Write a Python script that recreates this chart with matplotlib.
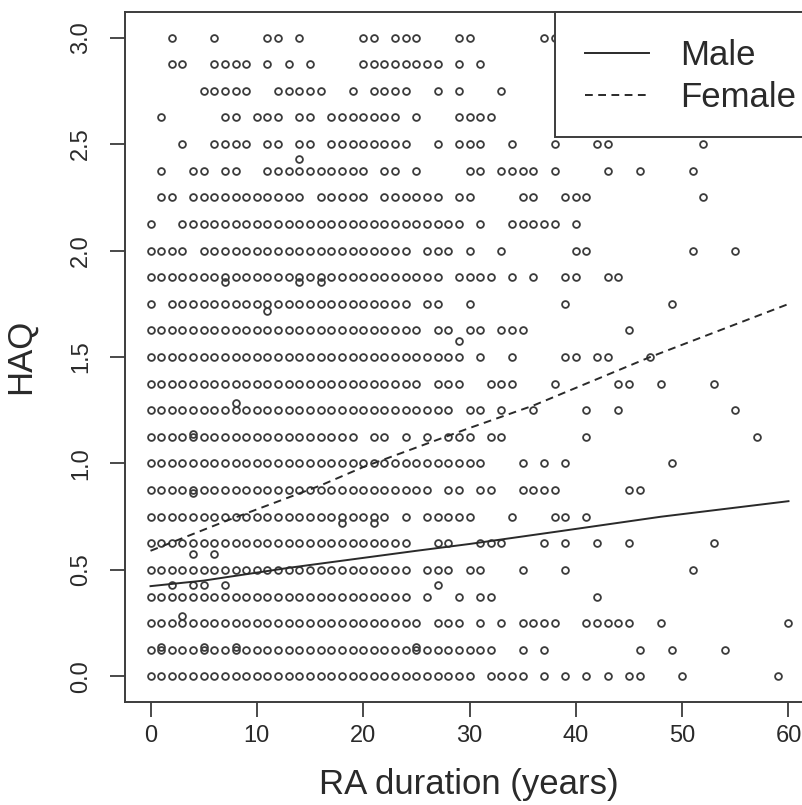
import matplotlib
matplotlib.use("Agg")
import matplotlib.pyplot as plt
from matplotlib.patches import Rectangle

plt.rcParams['font.family'] = ['Liberation Sans', 'DejaVu Sans']

# RA duration (years) observed at each HAQ level
haq_3000 = [2, 6, 11, 12, 14, 20, 21, 23, 24, 25, 29, 30, 37, 38]
haq_2875 = [2, 3, 6, 7, 8, 9, 11, 13, 15, 20, 21, 22, 23, 24, 25, 26, 27, 29, 31]
haq_2750 = [5, 6, 7, 8, 9, 12, 13, 14, 15, 16, 19, 21, 22, 23, 24, 27, 29, 33]
haq_2625 = [1, 7, 8, 10, 11, 12, 14, 15, 17, 18, 19, 20, 21, 22, 23, 25, 29, 30, 31, 32]
haq_2500 = [3, 6, 7, 8, 9, 11, 12, 14, 15, 17, 18, 19, 20, 21, 22, 23, 24, 27, 29, 30, 31, 34, 38, 42, 43, 52]
haq_2375 = [1, 4, 5, 7, 8, 11, 12, 13, 14, 15, 16, 17, 18, 19, 20, 22, 23, 25, 30, 31, 33, 34, 35, 36, 38, 43, 46, 51]
haq_2250 = [1, 2, 4, 5, 6, 7, 8, 9, 10, 11, 12, 13, 14, 16, 17, 18, 19, 20, 22, 23, 24, 25, 26, 27, 29, 30, 35, 36, 39, 40, 41, 52]
haq_2125 = [0, 3, 4, 5, 6, 7, 8, 9, 10, 11, 12, 13, 14, 15, 16, 17, 18, 19, 20, 21, 22, 23, 24, 25, 26, 27, 28, 29, 31, 34, 35, 36, 37, 38, 40]
haq_2000 = [0, 1, 2, 3, 5, 6, 7, 8, 9, 10, 11, 12, 13, 14, 15, 16, 17, 18, 19, 20, 21, 22, 23, 24, 26, 27, 28, 30, 33, 40, 41, 51, 55]
haq_1875 = [0, 1, 2, 3, 4, 5, 6, 7, 8, 9, 10, 11, 12, 13, 14, 15, 16, 17, 18, 19, 20, 21, 22, 23, 24, 25, 26, 27, 29, 30, 31, 32, 34, 36, 39, 40, 43, 44]
haq_1750 = [0, 2, 3, 4, 5, 6, 7, 8, 9, 10, 11, 12, 13, 14, 15, 16, 17, 18, 19, 20, 21, 22, 23, 24, 26, 27, 30, 39, 49]
haq_1625 = [0, 1, 2, 3, 4, 5, 6, 7, 8, 9, 10, 11, 12, 13, 14, 15, 16, 17, 18, 19, 20, 21, 22, 23, 24, 25, 27, 28, 30, 31, 33, 34, 35, 45]
haq_1500 = [0, 1, 2, 3, 4, 5, 6, 7, 8, 9, 10, 11, 12, 13, 14, 15, 16, 17, 18, 19, 20, 21, 22, 23, 24, 25, 26, 27, 28, 29, 31, 34, 39, 40, 42, 43, 47]
haq_1375 = [0, 1, 2, 3, 4, 5, 6, 7, 8, 9, 10, 11, 12, 13, 14, 15, 16, 17, 18, 19, 20, 21, 22, 23, 24, 25, 27, 28, 29, 32, 33, 34, 38, 44, 45, 48, 53]
haq_1250 = [0, 1, 2, 3, 4, 5, 6, 7, 8, 9, 10, 11, 12, 13, 14, 15, 16, 17, 18, 19, 20, 21, 22, 23, 24, 25, 26, 27, 28, 30, 31, 33, 36, 41, 44, 55]
haq_1125 = [0, 1, 2, 3, 4, 5, 6, 7, 8, 9, 10, 11, 12, 13, 14, 15, 16, 17, 18, 19, 21, 22, 24, 26, 28, 29, 30, 32, 33, 41, 57]
haq_1000 = [0, 1, 2, 3, 4, 5, 6, 7, 8, 9, 10, 11, 12, 13, 14, 15, 16, 17, 18, 19, 20, 21, 22, 23, 24, 25, 26, 27, 28, 29, 30, 31, 35, 37, 39, 49]
haq_0875 = [0, 1, 2, 3, 4, 5, 6, 7, 8, 9, 10, 11, 12, 13, 14, 15, 16, 17, 18, 19, 20, 21, 22, 23, 24, 25, 26, 28, 29, 31, 32, 35, 36, 37, 38, 45, 46]
haq_0750 = [0, 1, 2, 3, 4, 5, 6, 7, 8, 9, 10, 11, 12, 13, 14, 15, 16, 17, 18, 19, 20, 21, 22, 24, 26, 27, 28, 29, 30, 34, 38, 39, 41]
haq_0625 = [0, 1, 2, 3, 4, 5, 6, 7, 8, 9, 10, 11, 12, 13, 14, 15, 16, 17, 18, 19, 20, 21, 22, 23, 24, 27, 28, 31, 32, 33, 37, 39, 42, 45, 53]
haq_0500 = [0, 1, 2, 3, 4, 5, 6, 7, 8, 9, 10, 11, 12, 13, 14, 15, 16, 17, 18, 19, 20, 21, 22, 23, 24, 26, 27, 28, 30, 31, 35, 39, 51]
haq_0375 = [0, 1, 2, 3, 4, 5, 6, 7, 8, 9, 10, 11, 12, 13, 14, 15, 16, 17, 18, 19, 20, 21, 22, 23, 24, 26, 29, 31, 32, 42]
haq_0250 = [0, 1, 2, 3, 4, 5, 6, 7, 8, 9, 10, 11, 12, 13, 14, 15, 16, 17, 18, 19, 20, 21, 22, 23, 24, 25, 27, 28, 29, 31, 33, 35, 36, 37, 38, 41, 42, 43, 44, 45, 48, 60]
haq_0125 = [0, 1, 2, 3, 4, 5, 6, 7, 8, 9, 10, 11, 12, 13, 14, 15, 16, 17, 18, 19, 20, 21, 22, 23, 24, 25, 26, 27, 28, 29, 30, 31, 32, 35, 37, 46, 49, 54]
haq_0000 = [0, 1, 2, 3, 4, 5, 6, 7, 8, 9, 10, 11, 12, 13, 14, 15, 16, 17, 18, 19, 20, 21, 22, 23, 24, 25, 26, 27, 28, 29, 30, 32, 33, 34, 35, 37, 39, 41, 43, 45, 46, 50, 59]

# the few points that sit off the regular HAQ steps
off_x = [14, 7, 14, 16, 11, 29, 8, 4, 4, 18, 21, 4, 6, 2, 4, 5, 7, 27, 3, 1, 5, 8, 25]
off_y = [2.43, 1.85, 1.85, 1.85, 1.715, 1.573, 1.285, 1.14, 0.86, 0.72, 0.72, 0.573, 0.573, 0.43, 0.43, 0.43, 0.43, 0.43, 0.285, 0.14, 0.14, 0.14, 0.14]

male_x = [0, 5, 13, 25, 30, 38.5, 48, 60]
male_y = [0.424, 0.45, 0.51, 0.59, 0.622, 0.682, 0.75, 0.823]
female_x = [0, 7.2, 16, 20, 29.8, 36, 47, 59.85]
female_y = [0.59, 0.732, 0.897, 0.983, 1.163, 1.272, 1.5, 1.746]

x_ticks = [0, 10, 20, 30, 40, 50, 60]
y_ticks = [0.0, 0.5, 1.0, 1.5, 2.0, 2.5, 3.0]

rows = [
    (3.0, haq_3000), (2.875, haq_2875), (2.75, haq_2750), (2.625, haq_2625), (2.5, haq_2500),
    (2.375, haq_2375), (2.25, haq_2250), (2.125, haq_2125), (2.0, haq_2000), (1.875, haq_1875),
    (1.75, haq_1750), (1.625, haq_1625), (1.5, haq_1500), (1.375, haq_1375), (1.25, haq_1250),
    (1.125, haq_1125), (1.0, haq_1000), (0.875, haq_0875), (0.75, haq_0750), (0.625, haq_0625),
    (0.5, haq_0500), (0.375, haq_0375), (0.25, haq_0250), (0.125, haq_0125), (0.0, haq_0000),
]

dark = '#3c3c3c'
text_col = '#2a2a2a'
W, H = 803, 805

fig = plt.figure(figsize=(W / 100, H / 100), dpi=100)
# right edge of the box falls outside the picture, like the cropped original
ax = fig.add_axes([125 / W, (H - 702) / H, (814 - 125) / W, (702 - 12) / H])

for level, years in rows:
    ax.plot(years, [level] * len(years), linestyle='none', marker='o', markersize=4.9,
            markerfacecolor='none', markeredgecolor=dark, markeredgewidth=1.3)
ax.plot(off_x, off_y, linestyle='none', marker='o', markersize=4.9,
        markerfacecolor='none', markeredgecolor=dark, markeredgewidth=1.3)

ax.plot(male_x, male_y, color='#2a2a2a', linewidth=1.4, label='Male')
ax.plot(female_x, female_y, color='#2a2a2a', linewidth=1.4, dashes=(4, 2.8), label='Female')

ax.set_xlim(-2.4, 62.4)
ax.set_ylim(-0.12, 3.12)
ax.set_xticks(x_ticks)
ax.set_yticks(y_ticks)
ax.set_yticklabels([f"{v:.1f}" for v in y_ticks], rotation=90, va='center')
ax.tick_params(axis='both', length=10.5, width=1.3, color=dark, labelsize=17, labelcolor=text_col)
ax.tick_params(axis='x', pad=6)
ax.tick_params(axis='y', pad=13)
for side in ax.spines.values():
    side.set_linewidth(1.4)
    side.set_color(dark)

ax.set_xlabel("RA duration (years)", fontsize=25, color=text_col)
ax.set_ylabel("HAQ", fontsize=25, color=text_col)
ax.xaxis.set_label_coords((469 - 125) / (814 - 125), -(768 - 702) / (702 - 12))
ax.yaxis.set_label_coords(-(125 - 37) / (814 - 125), (702 - 356) / (702 - 12))

# legend box drawn by hand so its padding can follow the original
box = Rectangle((555 / W, (H - 137) / H), 300 / W, 125 / H, transform=fig.transFigure,
                facecolor='white', edgecolor=dark, linewidth=1.4, zorder=4, clip_on=False)
ax.add_patch(box)
leg = ax.legend(loc='upper left', bbox_to_anchor=(585 / W, (H - 39) / H), bbox_transform=fig.transFigure,
                fontsize=25, handlelength=1.85, handletextpad=0.9, labelspacing=0.27, borderpad=0,
                borderaxespad=0, frameon=False, labelcolor=text_col)
leg.set_zorder(5)

fig.savefig("out.png", dpi=100)
